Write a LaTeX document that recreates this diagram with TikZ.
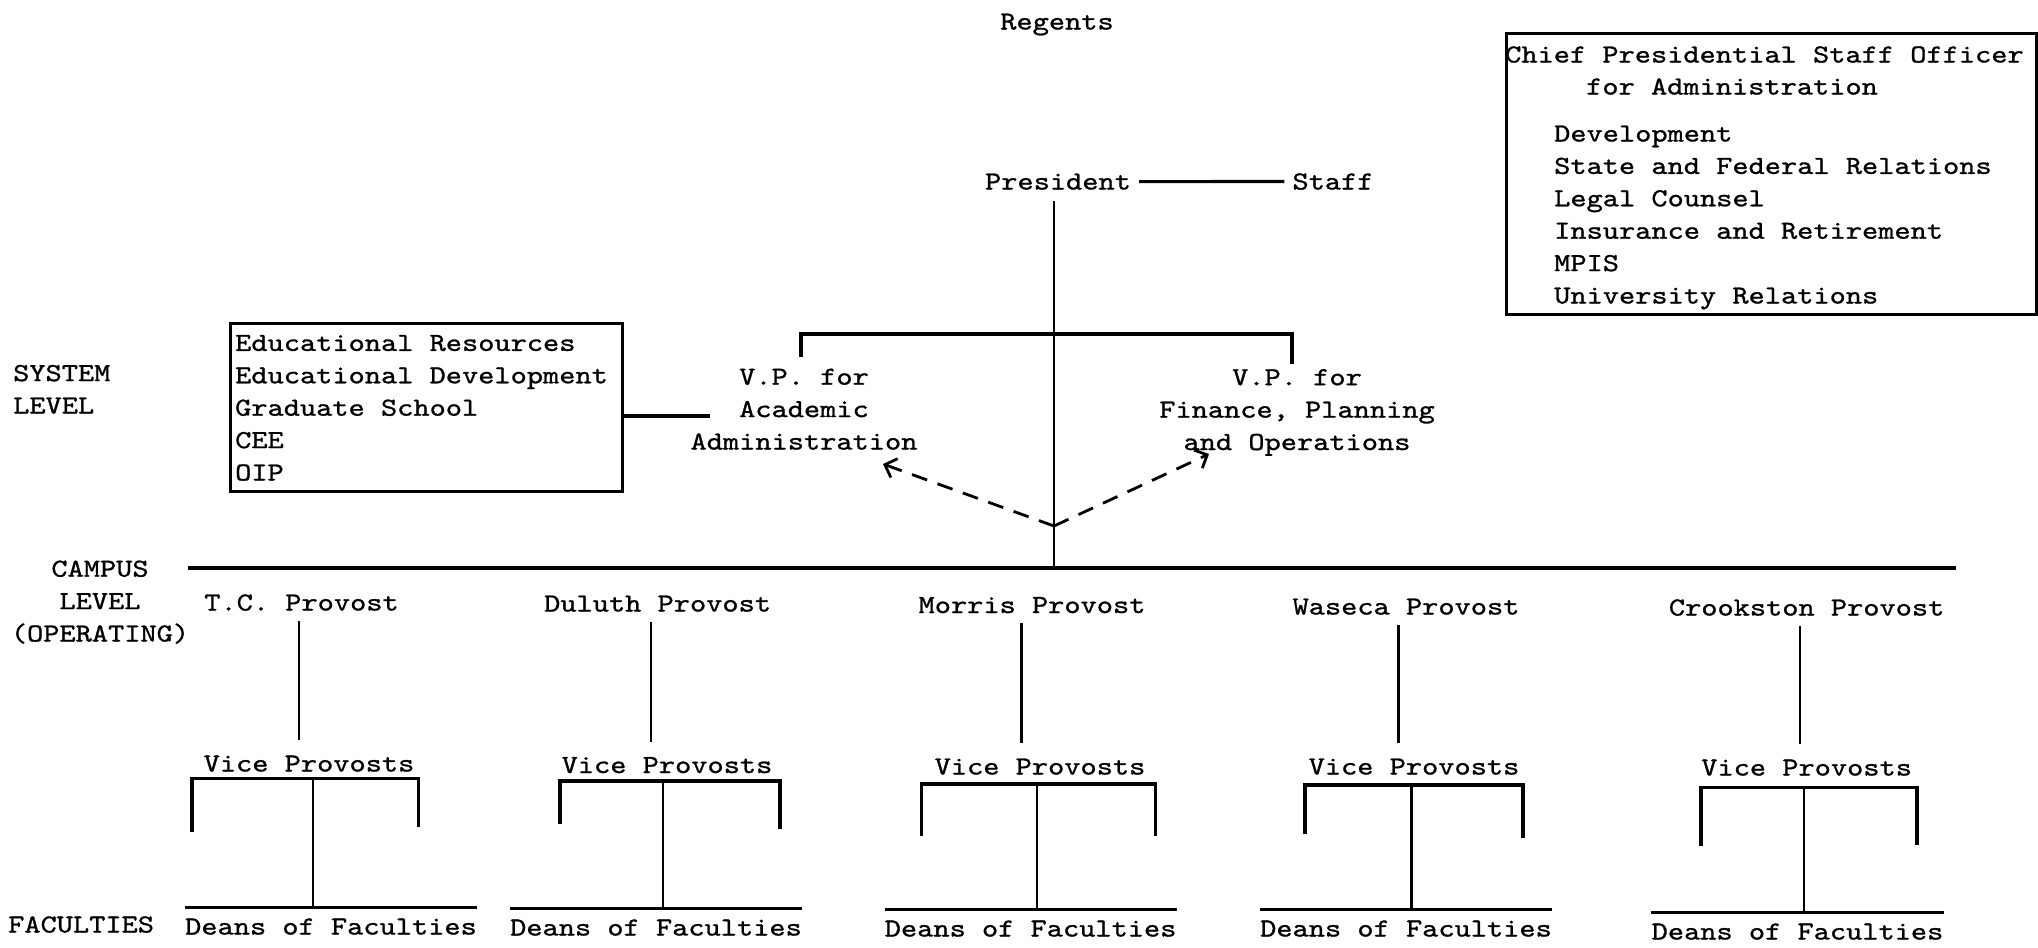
\documentclass[tikz,border=0pt]{standalone}
\usepackage{fontspec}
\newfontfamily\tw{lmmono10-regular.otf}[FakeStretch=1.187, FakeBold=1.0]
\usetikzlibrary{arrows.meta,calc}
\begin{document}
\begin{tikzpicture}[x=1pt,y=-1pt,
  lbl/.style={font=\tw\fontsize{26}{32.4}\selectfont, inner sep=0pt, anchor=base},
  bar/.style={line width=3.2pt},
  stem/.style={line width=2.6pt},
  boxst/.style={draw, line width=3pt, inner sep=0pt},
  dasharr/.style={line width=2.8pt, dash pattern=on 16pt off 11pt,
    -{Straight Barb[length=10pt,width=20pt]}}]
\useasboundingbox (0,0) rectangle (2038,948);
\fill[white] (0,0) rectangle (2038,948);

% top of the chart
\node[lbl] (regents) at (1057,29.5) {Regents};
\node[lbl] (pres) at (1058,189.5) {President};
\node[lbl] (staff) at (1333,189.5) {Staff};
\draw[bar, shorten <=8pt, shorten >=8pt] (pres.east) -- (staff.west);

% staff officer box (multi-line nodes sit on the baseline of their last line)
\node[boxst, minimum width=530pt, minimum height=281pt, anchor=north west] (cso) at (1505,32) {};
\node[lbl, anchor=base west] (csohead) at (1505,62.5) {Chief Presidential Staff Officer};
\node[lbl, anchor=base west] (csohead2) at (1586,94.5) {for Administration};
\node[lbl, anchor=base west, align=left] (csolist) at (1554,303.5)
  {Development\\State and Federal Relations\\Legal Counsel\\Insurance and Retirement\\MPIS\\University Relations};

% academic support box
\node[boxst, minimum width=392pt, minimum height=168pt, anchor=north west] (edbox) at (229,322) {};
\node[lbl, anchor=base west, align=left] (edlist) at (235,480.5)
  {Educational Resources\\Educational Development\\Graduate School\\CEE\\OIP};

% vice presidents
\node[lbl, align=center] (vpa) at (804,449.5) {V.P. for\\Academic\\Administration};
\node[lbl, align=center] (vpf) at (1297,450) {V.P. for\\Finance, Planning\\and Operations};

\coordinate (hub) at (1054,568);
\coordinate (vpj) at (1054,334);
\coordinate (vpaleg) at (801,357);
\coordinate (vpfleg) at (1292,364);
\coordinate (vpaL) at (710,416);
\coordinate (campL) at (188,568);
\coordinate (campR) at (1956,568);
\coordinate (dsrc) at (1054,526);
\coordinate (tipA) at (883,464);
\coordinate (tipF) at (1209,454);

\draw[stem, shorten <=11pt] (pres.south -| hub) -- (hub);
\draw[bar] (vpaleg) |- (vpj) -| (vpfleg);
\draw[bar] (edbox.east |- vpaL) -- (vpaL);
\draw[bar] (campL) -- (campR);
\draw[dasharr] (dsrc) -- (tipA);
\draw[dasharr] (dsrc) -- (tipF);

% level labels
\node[lbl, anchor=base west, align=left] (syslvl) at (13,413.5) {SYSTEM\\LEVEL};
\node[lbl, align=center] (camplvl) at (100,641.5) {CAMPUS\\LEVEL\\(OPERATING)};
\node[lbl, anchor=base west] (fac) at (8,932.5) {FACULTIES};

% campuses
\foreach \i/\name/\pX/\pB/\sX/\vX/\vB/\bY/\bL/\bR/\lL/\lR/\mX/\dX/\dB in {
  1/T.C./301.5/610.5/299/309/771.5/778.5/192/418.5/832/826.6/313/331/934.5,
  2/Duluth/657.6/611.5/651/667/773/781/560/780/824/829/663/656/935.5,
  3/Morris/1032/613/1021.6/1040/774.5/784/921.5/1155.5/835.7/835.7/1037/1030.6/936.5,
  4/Waseca/1406/614.5/1398.5/1414/774.5/785/1305/1523/834/838/1411.5/1406/936.5,
  5/Crookston/1806.6/615.5/1800/1806.6/775.5/787.6/1701/1917/846/845/1804/1797.5/939.5}
{
  \node[lbl] (p\i) at (\pX,\pB) {\name{} Provost};
  \node[lbl] (v\i) at (\vX,\vB) {Vice Provosts};
  \node[lbl] (d\i) at (\dX,\dB) {Deans of Faculties};
  \coordinate (j\i) at (\mX,\bY);
  \coordinate (bl\i) at (\bL,\lL);
  \coordinate (br\i) at (\bR,\lR);
  \coordinate (dt\i) at ([yshift=10.5pt]d\i.north);
  \draw[stem, shorten <=10pt, shorten >=15pt] (p\i.south -| \sX,0) -- (v\i.north -| \sX,0);
  \draw[bar] (bl\i) |- (j\i) -| (br\i);
  \draw[bar] (dt\i -| d\i.west) -- (dt\i -| d\i.east);
  \draw[stem] (j\i) -- (j\i |- dt\i);
}
\end{tikzpicture}
\end{document}
